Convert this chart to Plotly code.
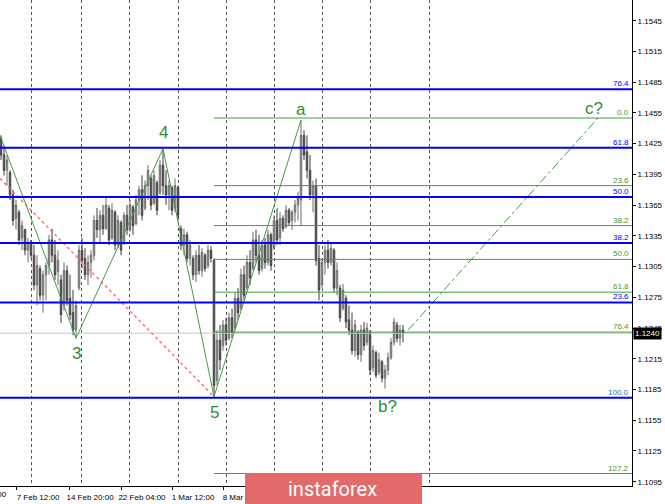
import plotly.graph_objects as go

# ---------------- data ----------------
opens = [1.1430, 1.1414, 1.1399, 1.1397, 1.1375, 1.1352, 1.1358, 1.1333, 1.1341, 1.1321,
         1.1329, 1.1316, 1.1287, 1.1303, 1.1277, 1.1297, 1.1306, 1.1331, 1.1316, 1.1300,
         1.1292, 1.1267, 1.1301, 1.1274, 1.1260, 1.1243, 1.1284, 1.1321, 1.1313, 1.1297,
         1.1309, 1.1316, 1.1350, 1.1341, 1.1355, 1.1342, 1.1362, 1.1333, 1.1358, 1.1326,
         1.1348, 1.1328, 1.1355, 1.1341, 1.1363, 1.1347, 1.1370, 1.1380, 1.1362, 1.1384,
         1.1391, 1.1367, 1.1387, 1.1377, 1.1404, 1.1384, 1.1375, 1.1382, 1.1362, 1.1382,
         1.1342, 1.1326, 1.1336, 1.1313, 1.1313, 1.1297, 1.1316, 1.1301, 1.1316, 1.1306,
         1.1321, 1.1311, 1.1194, 1.1233, 1.1228, 1.1248, 1.1235, 1.1255, 1.1245, 1.1274,
         1.1264, 1.1297, 1.1284, 1.1309, 1.1303, 1.1331, 1.1316, 1.1303, 1.1326, 1.1309,
         1.1336, 1.1323, 1.1350, 1.1333, 1.1352, 1.1344, 1.1360, 1.1350, 1.1358, 1.1365,
         1.1370, 1.1433, 1.1417, 1.1399, 1.1375, 1.1384, 1.1313, 1.1287, 1.1309, 1.1321,
         1.1309, 1.1321, 1.1284, 1.1284, 1.1264, 1.1274, 1.1253, 1.1243, 1.1223, 1.1241,
         1.1219, 1.1243, 1.1231, 1.1241, 1.1206, 1.1221, 1.1202, 1.1212, 1.1196, 1.1204,
         1.1216, 1.1231, 1.1248, 1.1235, 1.1243]
highs = [1.1433, 1.1423, 1.1414, 1.1399, 1.1380, 1.1370, 1.1360, 1.1350, 1.1342, 1.1333,
         1.1331, 1.1326, 1.1316, 1.1306, 1.1301, 1.1309, 1.1336, 1.1342, 1.1331, 1.1321,
         1.1297, 1.1309, 1.1306, 1.1297, 1.1282, 1.1272, 1.1326, 1.1333, 1.1323, 1.1316,
         1.1321, 1.1355, 1.1362, 1.1360, 1.1365, 1.1372, 1.1365, 1.1367, 1.1360, 1.1355,
         1.1350, 1.1358, 1.1365, 1.1370, 1.1365, 1.1375, 1.1384, 1.1394, 1.1389, 1.1404,
         1.1394, 1.1399, 1.1389, 1.1409, 1.1420, 1.1399, 1.1389, 1.1384, 1.1391, 1.1384,
         1.1345, 1.1342, 1.1339, 1.1331, 1.1316, 1.1321, 1.1326, 1.1323, 1.1318, 1.1326,
         1.1325, 1.1313, 1.1243, 1.1248, 1.1253, 1.1255, 1.1260, 1.1264, 1.1280, 1.1284,
         1.1303, 1.1306, 1.1316, 1.1321, 1.1339, 1.1341, 1.1336, 1.1331, 1.1333, 1.1341,
         1.1338, 1.1355, 1.1362, 1.1358, 1.1355, 1.1365, 1.1362, 1.1360, 1.1370, 1.1378,
         1.1448, 1.1438, 1.1433, 1.1414, 1.1389, 1.1391, 1.1326, 1.1313, 1.1326, 1.1331,
         1.1329, 1.1323, 1.1309, 1.1287, 1.1288, 1.1277, 1.1267, 1.1260, 1.1253, 1.1243,
         1.1248, 1.1251, 1.1250, 1.1243, 1.1228, 1.1223, 1.1221, 1.1214, 1.1209, 1.1221,
         1.1235, 1.1255, 1.1251, 1.1248, 1.1248]
lows = [1.1409, 1.1394, 1.1384, 1.1370, 1.1345, 1.1341, 1.1326, 1.1321, 1.1316, 1.1309,
        1.1313, 1.1282, 1.1267, 1.1272, 1.1260, 1.1272, 1.1297, 1.1309, 1.1292, 1.1287,
        1.1250, 1.1262, 1.1267, 1.1253, 1.1238, 1.1235, 1.1282, 1.1303, 1.1292, 1.1287,
        1.1294, 1.1311, 1.1333, 1.1329, 1.1336, 1.1341, 1.1326, 1.1331, 1.1321, 1.1323,
        1.1316, 1.1326, 1.1336, 1.1339, 1.1336, 1.1345, 1.1355, 1.1350, 1.1360, 1.1370,
        1.1360, 1.1365, 1.1355, 1.1375, 1.1375, 1.1365, 1.1360, 1.1355, 1.1358, 1.1350,
        1.1321, 1.1316, 1.1309, 1.1306, 1.1292, 1.1290, 1.1297, 1.1295, 1.1300, 1.1303,
        1.1309, 1.1178, 1.1189, 1.1204, 1.1223, 1.1228, 1.1233, 1.1235, 1.1243, 1.1253,
        1.1262, 1.1272, 1.1282, 1.1287, 1.1301, 1.1309, 1.1297, 1.1300, 1.1303, 1.1306,
        1.1301, 1.1321, 1.1326, 1.1326, 1.1339, 1.1342, 1.1345, 1.1341, 1.1348, 1.1350,
        1.1345, 1.1409, 1.1391, 1.1370, 1.1358, 1.1306, 1.1272, 1.1284, 1.1297, 1.1303,
        1.1306, 1.1280, 1.1277, 1.1251, 1.1262, 1.1245, 1.1238, 1.1219, 1.1217, 1.1214,
        1.1212, 1.1223, 1.1228, 1.1199, 1.1202, 1.1196, 1.1199, 1.1192, 1.1186, 1.1199,
        1.1214, 1.1228, 1.1231, 1.1228, 1.1231]
closes = [1.1414, 1.1399, 1.1409, 1.1375, 1.1350, 1.1365, 1.1331, 1.1345, 1.1321, 1.1329,
          1.1316, 1.1287, 1.1306, 1.1277, 1.1297, 1.1306, 1.1331, 1.1316, 1.1297, 1.1311,
          1.1258, 1.1301, 1.1272, 1.1258, 1.1243, 1.1267, 1.1321, 1.1311, 1.1297, 1.1309,
          1.1316, 1.1350, 1.1341, 1.1355, 1.1342, 1.1365, 1.1331, 1.1360, 1.1326, 1.1350,
          1.1321, 1.1355, 1.1341, 1.1365, 1.1345, 1.1370, 1.1380, 1.1355, 1.1384, 1.1399,
          1.1365, 1.1394, 1.1360, 1.1404, 1.1384, 1.1375, 1.1384, 1.1360, 1.1384, 1.1355,
          1.1326, 1.1336, 1.1313, 1.1326, 1.1297, 1.1316, 1.1301, 1.1319, 1.1303, 1.1321,
          1.1313, 1.1189, 1.1233, 1.1214, 1.1248, 1.1233, 1.1255, 1.1241, 1.1274, 1.1260,
          1.1297, 1.1277, 1.1309, 1.1294, 1.1331, 1.1316, 1.1301, 1.1326, 1.1309, 1.1336,
          1.1306, 1.1350, 1.1331, 1.1352, 1.1342, 1.1360, 1.1348, 1.1358, 1.1365, 1.1372,
          1.1433, 1.1414, 1.1399, 1.1375, 1.1384, 1.1311, 1.1282, 1.1309, 1.1321, 1.1309,
          1.1323, 1.1284, 1.1301, 1.1255, 1.1282, 1.1251, 1.1243, 1.1223, 1.1248, 1.1219,
          1.1243, 1.1228, 1.1245, 1.1204, 1.1223, 1.1199, 1.1214, 1.1196, 1.1204, 1.1216,
          1.1231, 1.1251, 1.1235, 1.1243, 1.1240]
bar_index = list(range(len(opens)))

# x axis labels (bar index positions) and vertical grid positions
x_tick_pos = [5.33, 22.67, 40.0, 57.0, 74.0]
x_tick_labels = ["7 Feb 12:00", "14 Feb 20:00", "22 Feb 04:00", "1 Mar 12:00", "8 Mar 20:00"]
first_label = "31 Jan 04:00"
grid_pos = [10.33, 26.67, 42.67, 59.0, 75.0, 91.0, 107.33, 123.33, 142.67]

# blue Fibonacci levels (full width)
blue_levels = [1.1478, 1.1421, 1.1373, 1.1328, 1.1270, 1.1177]
blue_labels = ["76.4", "61.8", "50.0", "38.2", "23.6", ""]
# green Fibonacci levels (from wave 5)
green_levels = [1.1450, 1.1384, 1.1345, 1.1312, 1.1280, 1.1241, 1.1177, 1.1103]
green_labels = ["0.0", "23.6", "38.2", "50.0", "61.8", "76.4", "100.0", "127.2"]
green_start = 71

current_price = 1.1240

# wave path
wave_x = [-0.33, 25, 54, 71, 100]
wave_y = [1.1433, 1.1235, 1.1420, 1.1178, 1.1448]
wave_labels = ["", "3", "4", "5", "a"]
wave_shift = [0, -15, 16, -16, 11]
# b? / c?
b_x, b_y = 128, 1.1186
proj_x = [135.7, 199.0]
proj_y = [1.1243, 1.1450]
# red trend line
red_x = [-0.33, 71]
red_y = [1.1391, 1.1178]

X_RANGE = [-1 / 3, 210.333]
Y_RANGE = [1.10908, 1.15652]

GREEN = "#3f9f3f"
LBL_GREEN = "#3c9a2a"
BLUE = "#0000ff"
FONT = "Liberation Sans"

fig = go.Figure()

# current price line
fig.add_trace(go.Scatter(x=X_RANGE, y=[current_price, current_price], mode="lines",
                         line=dict(color="#c8c8c8", width=1), hoverinfo="skip", showlegend=False))

fig.add_trace(go.Candlestick(
    x=bar_index, open=opens, high=highs, low=lows, close=closes,
    increasing=dict(line=dict(color="#6a6a6a", width=1), fillcolor="#bcbcbc"),
    decreasing=dict(line=dict(color="#3a3a3a", width=1), fillcolor="#8c8c8c"),
    whiskerwidth=0, hoverinfo="skip", showlegend=False))

# red dotted line
fig.add_trace(go.Scatter(x=red_x, y=red_y, mode="lines",
                         line=dict(color="rgba(255,90,90,0.85)", width=1.5, dash="dot"),
                         hoverinfo="skip", showlegend=False))

# green fib lines
for lv in green_levels:
    if abs(lv - 1.1177) < 1e-6:
        continue
    fig.add_trace(go.Scatter(x=[green_start, X_RANGE[1]], y=[lv, lv], mode="lines",
                             line=dict(color=GREEN, width=1), hoverinfo="skip", showlegend=False))

shapes = []
for lv in blue_levels:
    shapes.append(dict(type="line", xref="paper", x0=0, x1=1, yref="y", y0=lv, y1=lv,
                       line=dict(color=BLUE, width=2), layer="above"))

# wave lines
fig.add_trace(go.Scatter(x=wave_x, y=wave_y, mode="lines",
                         line=dict(color=GREEN, width=1), hoverinfo="skip", showlegend=False))
fig.add_trace(go.Scatter(x=proj_x, y=proj_y, mode="lines",
                         line=dict(color=GREEN, width=1, dash="dashdot"),
                         hoverinfo="skip", showlegend=False))

annotations = []
# fib labels
for lv, t in zip(blue_levels, blue_labels):
    if t:
        annotations.append(dict(xref="paper", x=0.999, yref="y", y=lv, text=t, showarrow=False,
                                xanchor="right", yanchor="bottom", yshift=-1,
                                font=dict(family=FONT, size=8, color=BLUE)))
for lv, t in zip(green_levels, green_labels):
    col = "#2f6fb0" if t == "100.0" else LBL_GREEN
    annotations.append(dict(xref="paper", x=0.999, yref="y", y=lv, text=t, showarrow=False,
                            xanchor="right", yanchor="bottom", yshift=-1,
                            font=dict(family=FONT, size=8, color=col)))
# wave labels
for wx, wy, t, s in zip(wave_x, wave_y, wave_labels, wave_shift):
    if t:
        annotations.append(dict(x=wx, y=wy, text=t, showarrow=False, yshift=s,
                                font=dict(family=FONT, size=17, color="#2f8f2f")))
annotations.append(dict(x=b_x + 0.7, y=b_y, text="b?", showarrow=False, yshift=-18,
                        font=dict(family=FONT, size=17, color="#2f8f2f")))
annotations.append(dict(x=proj_x[1] - 1.2, y=proj_y[1], text="c?", showarrow=False, yshift=10,
                        font=dict(family=FONT, size=17, color="#2f8f2f")))
# current price box
annotations.append(dict(xref="paper", x=1, xanchor="left", xshift=1, yref="y", y=current_price,
                        text="1.1240", showarrow=False, bgcolor="#000000", borderpad=1,
                        font=dict(family=FONT, size=8, color="#ffffff")))
# clipped first date label
annotations.append(dict(xref="paper", x=9 / 632, xanchor="right", yref="paper", y=-0.0165,
                        yanchor="middle", text=first_label, showarrow=False,
                        font=dict(family=FONT, size=8, color="#000000")))

# instaforex logo
shapes.append(dict(type="rect", xref="paper", yref="paper", x0=245 / 632, x1=422 / 632,
                   y0=-0.04, y1=13 / 486, fillcolor="#e26a6a", line=dict(width=0), layer="above"))
annotations.append(dict(xref="paper", yref="paper", x=332 / 632, y=-3 / 486, xanchor="center",
                        yanchor="middle", text="instaforex", showarrow=False,
                        font=dict(family="Roboto", size=20, color="#ffffff")))

fig.update_layout(
    width=665, height=504,
    margin=dict(l=0, r=33, t=0, b=18),
    paper_bgcolor="#ffffff", plot_bgcolor="#ffffff",
    showlegend=False,
    shapes=shapes, annotations=annotations,
    xaxis=dict(range=X_RANGE, showgrid=False, zeroline=False,
               tickmode="array", tickvals=x_tick_pos, ticktext=x_tick_labels,
               ticks="outside", ticklen=3, tickcolor="#000000",
               showline=True, linecolor="#000000", linewidth=1,
               tickfont=dict(family=FONT, size=8, color="#000000"),
               ticklabelshift=21,
               minor=dict(tickmode="array", tickvals=grid_pos, showgrid=True,
                          gridcolor="#555555", griddash="dot", gridwidth=1, ticks=""),
               rangeslider=dict(visible=False), fixedrange=True),
    yaxis=dict(range=Y_RANGE, side="right", showgrid=False, zeroline=False,
               tickmode="linear", tick0=1.1095, dtick=0.003, tickformat=".4f",
               ticks="outside", ticklen=3, tickcolor="#000000",
               showline=True, linecolor="#000000", linewidth=1,
               tickfont=dict(family=FONT, size=8, color="#000000"), fixedrange=True),
)

fig.write_html("out.html", config={"displayModeBar": False},
               post_script="document.body.style.margin='0';document.body.style.overflow='hidden';")
